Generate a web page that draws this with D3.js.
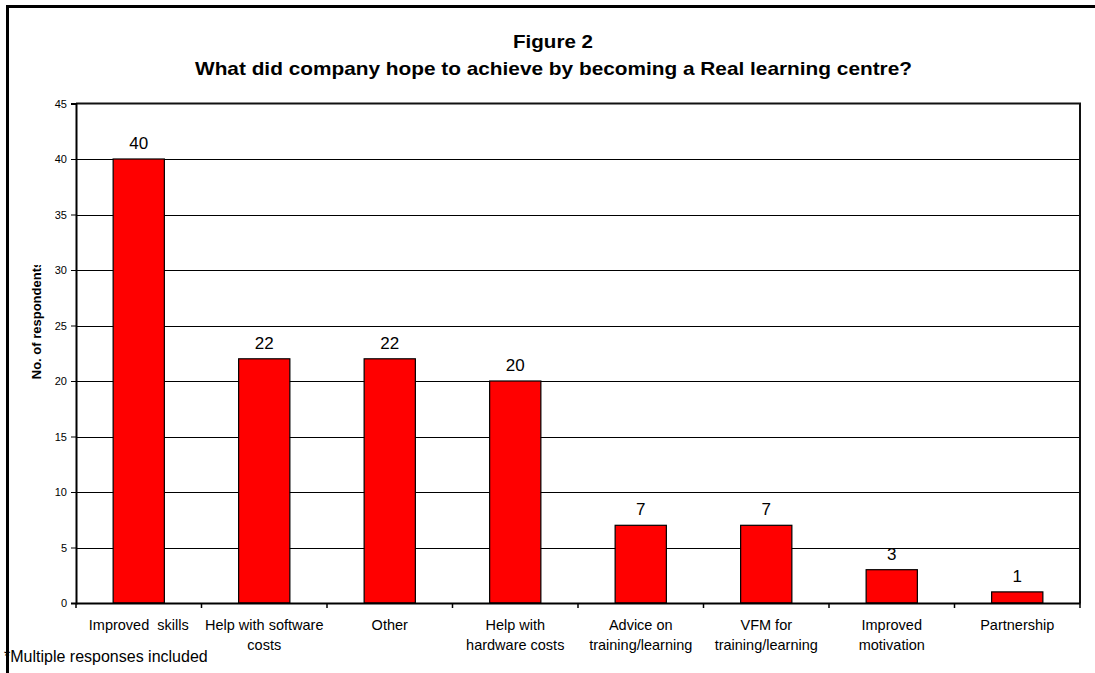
<!DOCTYPE html>
<html>
<head>
<meta charset="utf-8">
<script src="https://cdn.jsdelivr.net/npm/d3@7"></script>
<style>
  html, body { margin: 0; padding: 0; background: #fff; }
  svg { display: block; font-family: "Liberation Sans", Arial, sans-serif; }
</style>
</head>
<body>
<svg id="chart" width="1095" height="673"></svg>
<script>
// Responses per category
const categories = [
  "Improved  skills",
  "Help with software|costs",
  "Other",
  "Help with|hardware costs",
  "Advice on|training/learning",
  "VFM for|training/learning",
  "Improved|motivation",
  "Partnership"
];
const values = [40, 22, 22, 20, 7, 7, 3, 1];
const yTicks = [0, 5, 10, 15, 20, 25, 30, 35, 40, 45];
const titleLines = ["Figure 2", "What did company hope to achieve by becoming a Real learning centre?"];
const yLabel = "No. of respondents";
const footnote = "*Multiple responses included";

const svg = d3.select("#chart");
const plot = { left: 76, right: 1080, top: 103.5, bottom: 603 };

const x = d3.scaleBand()
  .domain(categories)
  .range([plot.left, plot.right])
  .padding(0);

const y = d3.scaleLinear()
  .domain([0, 45])
  .range([plot.bottom, plot.top]);

const barW = x.bandwidth() / 2.45;

// Footnote (drawn first so the frame overlaps it)
svg.append("text")
  .attr("x", 4).attr("y", 662)
  .attr("font-size", 16)
  .attr("fill", "#000")
  .text(footnote);

// Outer frame
svg.append("rect")
  .attr("x", 7.5).attr("y", 6.5)
  .attr("width", 1200).attr("height", 800)
  .attr("fill", "none")
  .attr("stroke", "#000")
  .attr("stroke-width", 3);

// Titles
svg.append("text")
  .attr("x", 553).attr("y", 48)
  .attr("text-anchor", "middle")
  .attr("font-size", 18.5).attr("font-weight", "bold")
  .attr("textLength", 80).attr("lengthAdjust", "spacingAndGlyphs")
  .text(titleLines[0]);
svg.append("text")
  .attr("x", 553.5).attr("y", 75)
  .attr("text-anchor", "middle")
  .attr("font-size", 18.5).attr("font-weight", "bold")
  .attr("textLength", 717).attr("lengthAdjust", "spacingAndGlyphs")
  .text(titleLines[1]);

// Horizontal gridlines
svg.append("g")
  .selectAll("line")
  .data(yTicks.filter(d => d > 0 && d < 45))
  .join("line")
  .attr("x1", plot.left).attr("x2", plot.right)
  .attr("y1", d => Math.round(y(d)) + 0.5)
  .attr("y2", d => Math.round(y(d)) + 0.5)
  .attr("stroke", "#000")
  .attr("stroke-width", 1);

// Plot frame (top and right)
svg.append("path")
  .attr("d", `M${plot.left},${plot.top}H${plot.right}V${plot.bottom}`)
  .attr("fill", "none")
  .attr("stroke", "#111")
  .attr("stroke-width", 2);

// Bars
svg.append("g")
  .selectAll("rect")
  .data(values)
  .join("rect")
  .attr("x", (d, i) => x(categories[i]) + (x.bandwidth() - barW) / 2)
  .attr("y", d => y(d))
  .attr("width", barW)
  .attr("height", d => y(0) - y(d))
  .attr("fill", "#ff0000")
  .attr("stroke", "#000")
  .attr("stroke-width", 1.2);

// Value labels
svg.append("g")
  .selectAll("text")
  .data(values)
  .join("text")
  .attr("x", (d, i) => x(categories[i]) + x.bandwidth() / 2)
  .attr("y", d => y(d) - 10)
  .attr("text-anchor", "middle")
  .attr("font-size", 17)
  .text(d => d);

// Y axis
const yAxis = d3.axisLeft(y)
  .tickValues(yTicks)
  .tickSize(5)
  .tickPadding(4);
const gy = svg.append("g")
  .attr("transform", `translate(${plot.left},0)`)
  .call(yAxis);
gy.select(".domain").attr("stroke", "#000").attr("stroke-width", 2);
gy.selectAll(".tick line").attr("stroke", "#000");
gy.selectAll(".tick text")
  .attr("font-size", 11)
  .attr("font-family", "Liberation Sans, Arial, sans-serif")
  .attr("fill", "#000");

// X axis
const xAxis = d3.axisBottom(x).tickSize(0).tickFormat("");
const gx = svg.append("g")
  .attr("transform", `translate(0,${plot.bottom})`)
  .call(xAxis);
gx.select(".domain").attr("stroke", "#000").attr("stroke-width", 2);
gx.selectAll(".tick").remove();

// Tick marks at category boundaries
const bounds = categories.map(c => x(c)).concat([plot.right]);
gx.append("g")
  .selectAll("line")
  .data(bounds)
  .join("line")
  .attr("x1", d => d).attr("x2", d => d)
  .attr("y1", 0).attr("y2", 5)
  .attr("stroke", "#000")
  .attr("stroke-width", 1.5);

// Category labels, wrapped on "|"
const catLabels = svg.append("g")
  .selectAll("text")
  .data(categories)
  .join("text")
  .attr("x", d => x(d) + x.bandwidth() / 2)
  .attr("y", 630)
  .attr("text-anchor", "middle")
  .attr("font-size", 14.5)
  .attr("fill", "#000")
  .style("white-space", "pre");
catLabels.each(function(d) {
  const t = d3.select(this);
  d.split("|").forEach((line, i) => {
    t.append("tspan")
      .attr("x", x(d) + x.bandwidth() / 2)
      .attr("dy", i === 0 ? 0 : 20)
      .text(line);
  });
});

// Y axis title, clipped at the top
svg.append("clipPath").attr("id", "ylabClip")
  .append("rect").attr("x", 20).attr("y", 265).attr("width", 40).attr("height", 200);
svg.append("g")
  .attr("clip-path", "url(#ylabClip)")
  .append("text")
  .attr("transform", "translate(40.5,320) rotate(-90)")
  .attr("text-anchor", "middle")
  .attr("font-size", 13)
  .attr("font-weight", "bold")
  .text(yLabel);
</script>
</body>
</html>
